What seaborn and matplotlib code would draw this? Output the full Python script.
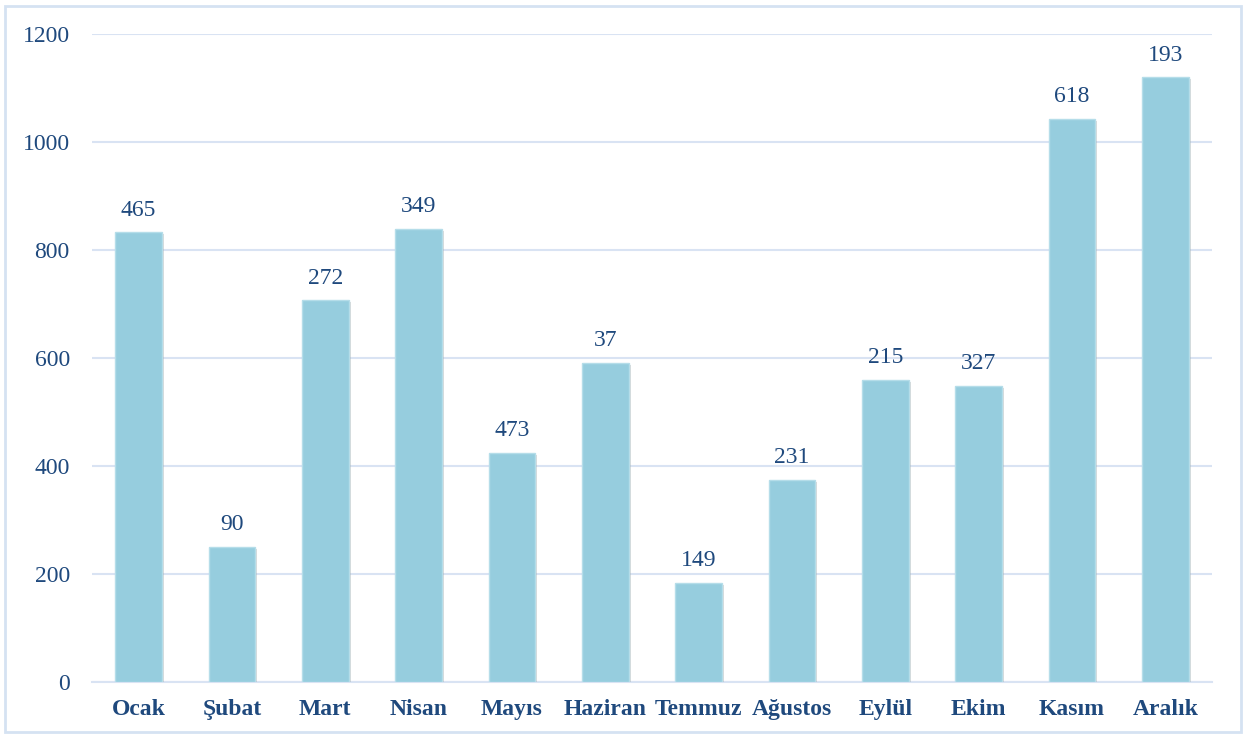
import matplotlib
matplotlib.use("Agg")
import matplotlib.pyplot as plt
import matplotlib.patheffects as pe
from matplotlib.patches import Rectangle
import pandas as pd
import seaborn as sns

months = ['Ocak', 'Şubat', 'Mart', 'Nisan', 'Mayıs', 'Haziran', 'Temmuz',
          'Ağustos', 'Eylül', 'Ekim', 'Kasım', 'Aralık']
heights = [833, 250, 707, 839, 424, 591, 183, 374, 559, 548, 1043, 1120]
bar_labels = ['465', '90', '272', '349', '473', '37', '149', '231', '215', '327', '618', '193']
yticks = [0, 200, 400, 600, 800, 1000, 1200]

text_color = '#1F497D'
grid_color = '#D9E3F3'

sns.set_style('white')
plt.rcParams['font.family'] = ['Liberation Serif', 'DejaVu Serif']

df = pd.DataFrame({'month': months, 'value': heights})

fig = plt.figure(figsize=(12.45, 7.36), dpi=100)
ax = fig.add_axes([0.0739, 0.0734, 0.8996, 0.8804])

sns.barplot(data=df, x='month', y='value', color='#96CDDE', width=0.5,
            saturation=1, edgecolor='#B5DDE9', linewidth=1, ax=ax, zorder=3)

for bar, lab in zip(ax.patches, bar_labels):
    bar.set_path_effects([pe.SimplePatchShadow(offset=(1.5, -1.5), shadow_rgbFace='#9A9A9A', alpha=0.35),
                          pe.Normal()])
    ax.annotate(lab, (bar.get_x() + bar.get_width() / 2, bar.get_height()),
                xytext=(0, 12), textcoords='offset points', ha='center', va='baseline',
                fontsize=17, color=text_color)

ax.set_ylim(0, 1200)
ax.set_xlim(-0.5, len(months) - 0.5)
ax.set_yticks(yticks)
ax.yaxis.grid(True, color=grid_color, linewidth=1.5, zorder=0)
ax.set_axisbelow(True)
for side in ['top', 'right', 'left']:
    ax.spines[side].set_visible(False)
ax.spines['bottom'].set_color(grid_color)
ax.spines['bottom'].set_linewidth(1.5)
ax.tick_params(axis='both', length=0)
ax.tick_params(axis='y', pad=16, labelsize=17, labelcolor=text_color)
ax.tick_params(axis='x', pad=12, labelsize=17, labelcolor=text_color)
for t in ax.get_xticklabels():
    t.set_fontweight('bold')
ax.set_xlabel('')
ax.set_ylabel('')

fig.patches.append(Rectangle((0.004, 0.006), 0.993, 0.986, transform=fig.transFigure,
                             fill=False, edgecolor='#D5E2F2', linewidth=2))

fig.savefig('out.png', dpi=100)
